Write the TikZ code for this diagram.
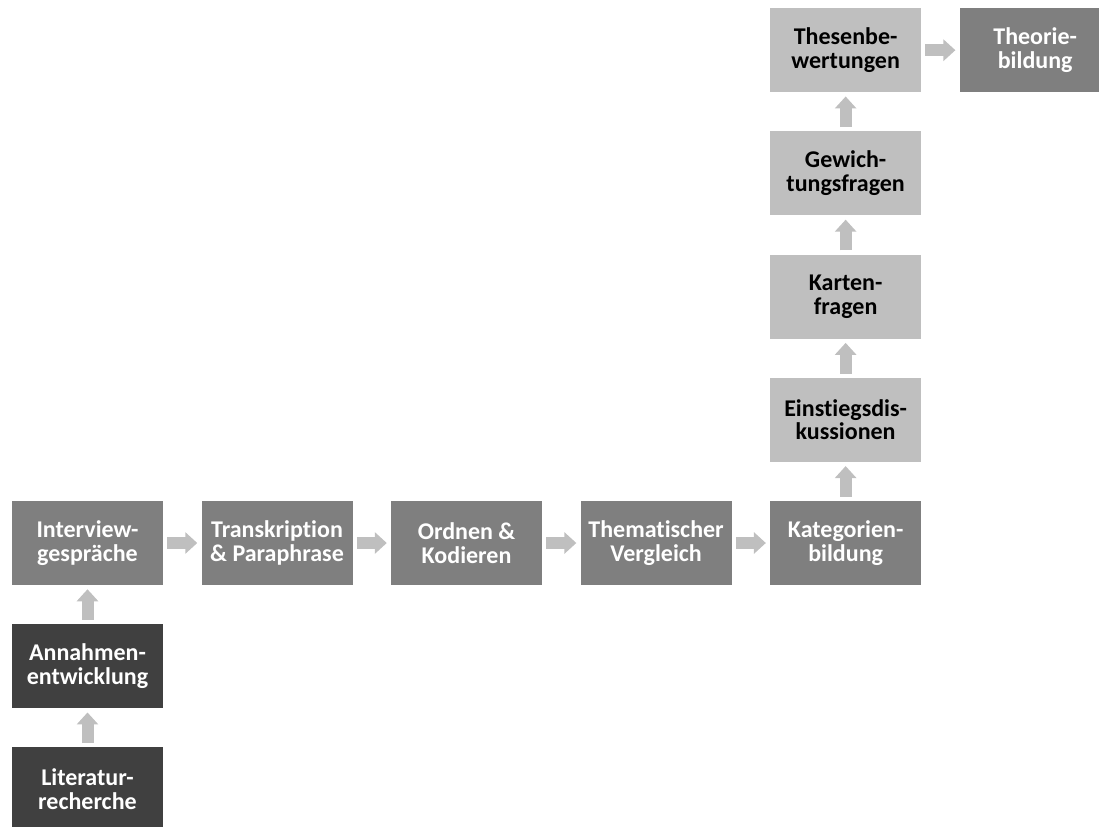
\documentclass[tikz,border=0pt]{standalone}
\usepackage{fontspec}
\setmainfont{Carlito}[Ligatures=CommonOff]
\usetikzlibrary{arrows.meta,positioning}
\definecolor{mittel}{HTML}{7F7F7F}
\definecolor{dunkel}{HTML}{404040}
\definecolor{hell}{HTML}{BFBFBF}

\begin{document}
\begin{tikzpicture}[node distance=29pt and 28.5pt,
  box/.style={minimum width=113.25pt,minimum height=63pt,inner sep=0pt,align=center,
    font=\fontsize{18pt}{17.75pt}\selectfont\bfseries},
  boxmittel/.style={box,fill=mittel,text=white},
  boxdunkel/.style={box,fill=dunkel,text=white},
  boxhell/.style={box,fill=hell,text=black},
  pfeil/.style={draw=hell,line width=9pt,-{Triangle[length=9pt,width=15.75pt]},
    shorten <=3pt,shorten >=3pt}]
\useasboundingbox (0,0) rectangle (824.25pt,-619.5pt);
\node[boxmittel] (interview) at (65.625pt,-407.25pt) {Interview-\\gespräche};
\node[boxmittel] (transkription) [right=of interview] {Transkription\\\& Paraphrase};
\node[boxmittel] (ordnen) [right=of transkription] {Ordnen \&\\Kodieren};
\node[boxmittel] (vergleich) [right=of ordnen] {Thematischer\\Vergleich};
\node[boxmittel] (kategorien) [right=of vergleich] {Kategorien-\\bildung};
\node[boxdunkel] (annahmen) [below=of interview] {Annahmen-\\entwicklung};
\node[boxdunkel] (literatur) [below=of annahmen] {Literatur-\\recherche};
\node[boxhell] (einstieg) [above=of kategorien] {Einstiegsdis-\\kussionen};
\node[boxhell] (karten) [above=of einstieg] {Karten-\\fragen};
\node[boxhell] (gewichtung) [above=of karten] {Gewich-\\tungsfragen};
\node[boxhell] (thesen) [above=of gewichtung] {Thesenbe-\\wertungen};
\node[boxmittel] (theorie) [right=of thesen] {Theorie-\\bildung};
\path[pfeil] (literatur) -- (annahmen);
\path[pfeil] (annahmen) -- (interview);
\path[pfeil] (interview) -- (transkription);
\path[pfeil] (transkription) -- (ordnen);
\path[pfeil] (ordnen) -- (vergleich);
\path[pfeil] (vergleich) -- (kategorien);
\path[pfeil] (kategorien) -- (einstieg);
\path[pfeil] (einstieg) -- (karten);
\path[pfeil] (karten) -- (gewichtung);
\path[pfeil] (gewichtung) -- (thesen);
\path[pfeil] (thesen) -- (theorie);
\end{tikzpicture}
\end{document}
